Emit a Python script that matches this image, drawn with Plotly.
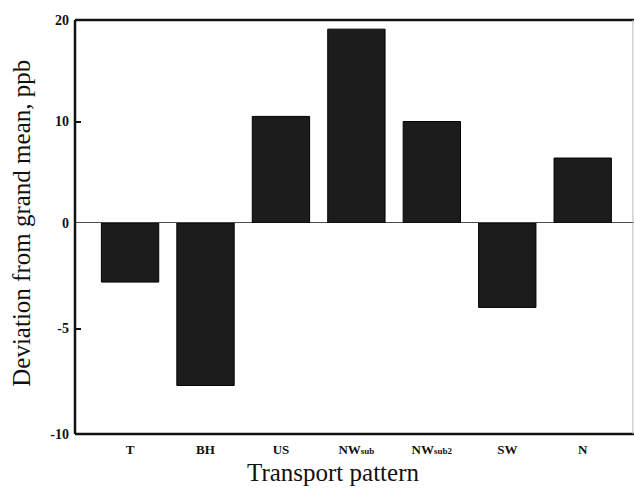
import plotly.graph_objects as go

# Transport patterns and their deviation from the grand mean (ppb)
patterns = ["T", "BH", "US", "NWsub", "NWsub2", "SW", "N"]
pattern_labels = [
    "T", "BH", "US",
    "NW<span style='font-size:9px'>sub</span>",
    "NW<span style='font-size:9px'>sub2</span>",
    "SW", "N",
]
deviation = [-2.8, -7.7, 10.5, 19.1, 10.0, -4.0, 6.4]

# The axis is split at zero: above 0 it runs 0..20, below 0 it runs -10..0
upper_ticks = [0, 10, 20]
upper_ticktext = ["0", "10", "20"]
lower_ticks = [-10, -5]
lower_ticktext = ["-10", "-5"]

bar_fill = "#1c1c1c"
serif = "Liberation Serif, Times New Roman, serif"

pos_vals = [v if v >= 0 else None for v in deviation]
neg_vals = [v if v < 0 else None for v in deviation]

fig = go.Figure()
fig.add_trace(go.Bar(
    x=patterns, y=pos_vals, width=0.76, yaxis="y",
    marker=dict(color=bar_fill, line=dict(color="#000", width=1)),
    showlegend=False,
))
fig.add_trace(go.Bar(
    x=patterns, y=neg_vals, width=0.76, yaxis="y2",
    marker=dict(color=bar_fill, line=dict(color="#000", width=1)),
    showlegend=False,
))

split = 211 / 414

ytick_style = dict(
    ticks="inside", ticklen=6, tickwidth=1.5, tickcolor="#111",
    tickfont=dict(family=serif, size=14, color="#111", weight="bold"),
    ticklabelstandoff=5,
    showgrid=False, zeroline=False, showline=False,
)

fig.update_layout(
    width=634, height=490,
    margin=dict(l=75, r=0, t=20, b=56),
    paper_bgcolor="white", plot_bgcolor="white",
    barmode="overlay",
    font=dict(family=serif, color="#111"),
    xaxis=dict(
        type="category", range=[-0.73, 6.68], anchor="y2",
        tickvals=patterns, ticktext=pattern_labels,
        tickfont=dict(family=serif, size=13, color="#111", weight="bold"),
        showgrid=False, zeroline=False, showline=False,
        ticks="", ticklabelstandoff=6,
    ),
    yaxis=dict(domain=[split, 1], range=[0, 20], anchor="x",
               tickvals=upper_ticks, ticktext=upper_ticktext, **ytick_style),
    yaxis2=dict(domain=[0, split], range=[-10, 0], anchor="x",
                tickvals=lower_ticks, ticktext=lower_ticktext, **ytick_style),
    shapes=[
        # zero baseline
        dict(type="line", xref="paper", yref="y", x0=0, x1=1, y0=0, y1=0,
             line=dict(color="#111", width=1.5)),
        # frame
        dict(type="line", xref="paper", yref="paper", x0=0, x1=1, y0=1, y1=1,
             line=dict(color="#111", width=2.5)),
        dict(type="line", xref="paper", yref="paper", x0=0, x1=1, y0=0, y1=0,
             line=dict(color="#111", width=2.5)),
        dict(type="line", xref="paper", yref="paper", x0=0, x1=0, y0=0, y1=1,
             line=dict(color="#111", width=2.5)),
        dict(type="line", xref="paper", yref="paper", x0=0.998, x1=0.998, y0=0, y1=1,
             line=dict(color="#bbb", width=1)),
    ],
    annotations=[
        dict(text="Deviation from grand mean, ppb", textangle=-90,
             xref="paper", yref="paper", x=-0.095, y=0.51,
             xanchor="center", yanchor="middle", showarrow=False,
             font=dict(family=serif, size=25, color="#111")),
        dict(text="Transport pattern",
             xref="paper", yref="paper", x=0.4615, y=-0.092,
             xanchor="center", yanchor="middle", showarrow=False,
             font=dict(family=serif, size=25, color="#111")),
    ],
)

fig.write_html("out.html")
